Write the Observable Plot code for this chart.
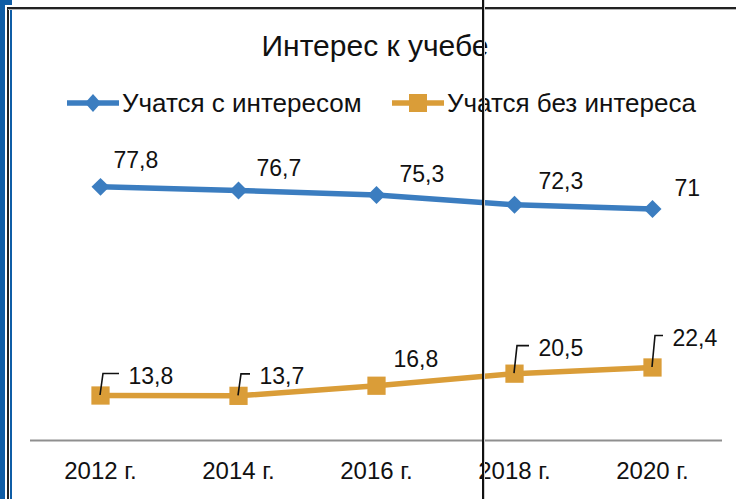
<!DOCTYPE html>
<html>
<head>
<meta charset="utf-8">
<script src="https://cdn.jsdelivr.net/npm/d3@7"></script>
<script src="https://cdn.jsdelivr.net/npm/@observablehq/plot@0.6"></script>
<style>
  html, body { margin: 0; padding: 0; background: #fff; }
  #wrap { position: relative; width: 736px; height: 499px; overflow: hidden; background: #fff;
          font-family: "Liberation Sans", Arial, sans-serif; color: #111; }
  #title { position: absolute; left: 0; width: 750px; top: 28px; text-align: center; font-size: 30px; line-height: 36px; }
  .leg { position: absolute; top: 88px; height: 30px; display: flex; align-items: center; font-size: 26px; }
  .leg svg { display: block; margin-right: 3px; }
  #chart { position: absolute; left: 0; top: 120px; }
  .deco { position: absolute; z-index: 5; }
</style>
</head>
<body>
<div id="wrap">
  <div id="title"></div>
  <div id="legend"></div>
  <div id="chart"></div>
</div>
<script>
// ---- data ----
const years = ["2012 г.", "2014 г.", "2016 г.", "2018 г.", "2020 г."];
const withInterest = [77.8, 76.7, 75.3, 72.3, 71];
const withoutInterest = [13.8, 13.7, 16.8, 20.5, 22.4];
const seriesNames = ["Учатся с интересом", "Учатся без интереса"];
const chartTitle = "Интерес к учебе";

// ---- styling / layout ----
const blue = "#3B7DC0";
const orange = "#DA9D38";
const blueLabelOffsets = [[13, -26], [18, -22], [23, -20], [24, -23], [22, -20]];
const orangeLabelOffsets = [[28, -19], [21, -19], [17, -26], [24, -25], [20, -29]];
const orangeLeaders = [true, true, false, true, true];

const fmt = v => String(v).replace(".", ",");
const blueData = years.map((year, i) => ({year, value: withInterest[i], i}));
const orangeData = years.map((year, i) => ({year, value: withoutInterest[i], i}));

document.getElementById("title").textContent = chartTitle;

// legend
const legend = document.getElementById("legend");
function legendItem(left, color, shape, name) {
  const div = document.createElement("div");
  div.className = "leg";
  div.style.left = left + "px";
  const sym = shape === "diamond"
    ? `<path d="M26,6 L34,15 L26,24 L18,15 Z" fill="${color}"/>`
    : `<rect x="17" y="6" width="18" height="18" fill="${color}"/>`;
  div.innerHTML = `<svg width="52" height="30"><line x1="1" x2="51" y1="15" y2="15" stroke="${color}" stroke-width="5.5" stroke-linecap="round"/>${sym}</svg><span>${name}</span>`;
  legend.appendChild(div);
}
legendItem(67, blue, "diamond", seriesNames[0]);
legendItem(392, orange, "square", seriesNames[1]);

const diamondSym = d3.symbolDiamond2 || d3.symbolDiamond;

const labelFont = {fontSize: 23, fontFamily: "Liberation Sans, Arial, sans-serif", fill: "#111", textAnchor: "start", lineAnchor: "middle"};

const leaderMark = (index, scales) => {
  const g = d3.create("svg:g");
  orangeData.forEach((d, i) => {
    if (!orangeLeaders[i]) return;
    const [dx, dy] = orangeLabelOffsets[i];
    const x = scales.x(d.year), y = scales.y(d.value);
    g.append("path")
      .attr("d", `M${x},${y} L${x + 3},${y + dy - 2.5} L${x + dx - 9},${y + dy - 2.5}`)
      .attr("fill", "none").attr("stroke", "#111").attr("stroke-width", 1.6);
  });
  return g.node();
};

const plot = Plot.plot({
  width: 736,
  height: 379,
  marginLeft: 30,
  marginRight: 14,
  marginTop: 26.6,
  marginBottom: 59,
  style: {fontSize: "24px", fontFamily: "Liberation Sans, Arial, sans-serif", color: "#111", background: "transparent"},
  x: {type: "point", domain: years, padding: 0.5, tickSize: 0, tickPadding: 21, label: null},
  y: {domain: [0, 90], axis: null},
  marks: [
    Plot.ruleY([0], {stroke: "#8f8f8f", strokeWidth: 2}),
    Plot.line(blueData, {x: "year", y: "value", stroke: blue, strokeWidth: 5.5}),
    Plot.line(orangeData, {x: "year", y: "value", stroke: orange, strokeWidth: 5.5}),
    Plot.dot(blueData, {x: "year", y: "value", symbol: diamondSym, r: 8.1, fill: blue, stroke: "none"}),
    Plot.dot(orangeData, {x: "year", y: "value", symbol: "square", r: 10.3, fill: orange, stroke: "none"}),
    leaderMark,
    ...blueData.map((d, i) => Plot.text([d], {x: "year", y: "value", text: d => fmt(d.value), dx: blueLabelOffsets[i][0], dy: blueLabelOffsets[i][1], ...labelFont})),
    ...orangeData.map((d, i) => Plot.text([d], {x: "year", y: "value", text: d => fmt(d.value), dx: orangeLabelOffsets[i][0], dy: orangeLabelOffsets[i][1], ...labelFont}))
  ]
});
document.getElementById("chart").appendChild(plot);

// frame decorations of the screenshot
const wrap = document.getElementById("wrap");
function deco(l, t, w, h, c) {
  const d = document.createElement("div");
  d.className = "deco";
  Object.assign(d.style, {left: l + "px", top: t + "px", width: w + "px", height: h + "px", background: c});
  wrap.appendChild(d);
}
deco(0, 0, 5, 499, "#0F5DA6");
deco(0, 0, 12, 5, "#0F5DA6");
deco(7, 7, 1.5, 492, "#222");
deco(7, 7, 729, 1.5, "#222");
deco(8, 9, 728, 1, "#b5b5b5");
deco(9.5, 10, 2.5, 489, "#0F5DA6");
deco(482, 0, 2, 499, "#111");
deco(484, 0, 1, 499, "#d0d0d0");
</script>
</body>
</html>
